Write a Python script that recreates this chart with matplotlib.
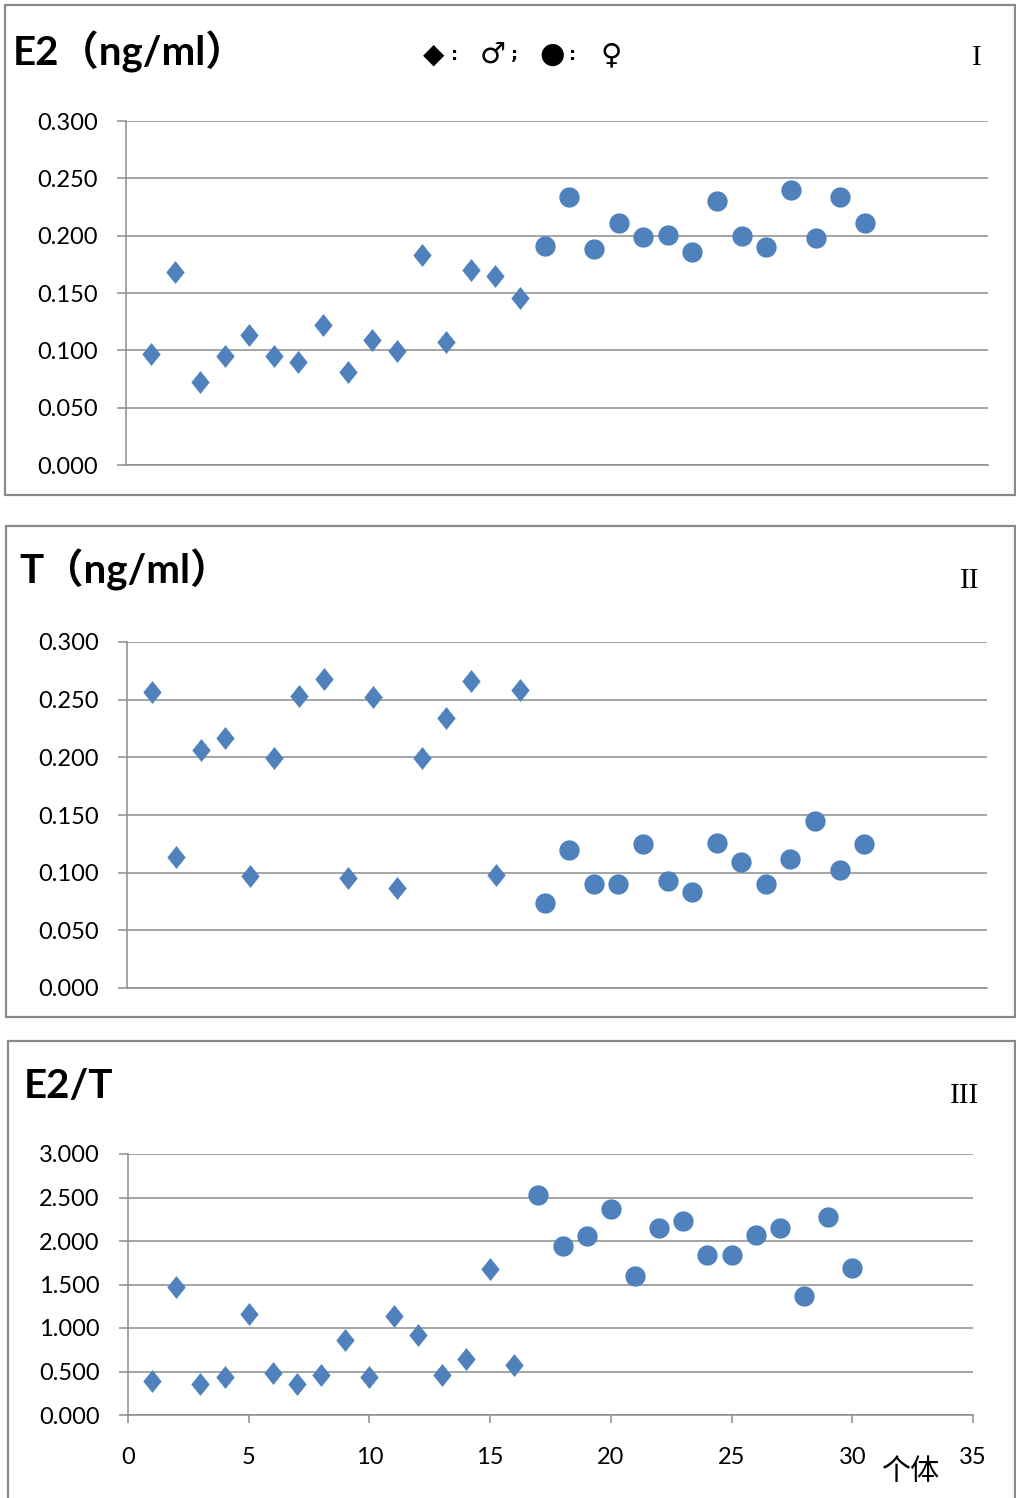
import matplotlib
matplotlib.use('Agg')
import matplotlib.pyplot as plt
from matplotlib.patches import Rectangle
from matplotlib.path import Path
from matplotlib.ticker import FormatStrFormatter
import numpy as np

# ---------------- data ----------------
male_ids = list(range(1, 17))
female_ids = list(range(17, 31))

e2_male = [0.097, 0.168, 0.072, 0.095, 0.113, 0.095, 0.090, 0.122,
           0.081, 0.109, 0.099, 0.183, 0.107, 0.170, 0.165, 0.146]
e2_female = [0.191, 0.234, 0.188, 0.211, 0.199, 0.201, 0.186,
             0.230, 0.200, 0.190, 0.240, 0.198, 0.234, 0.211]

t_male = [0.257, 0.114, 0.206, 0.217, 0.097, 0.199, 0.253, 0.268,
          0.095, 0.252, 0.087, 0.199, 0.234, 0.266, 0.098, 0.258]
t_female = [0.074, 0.120, 0.090, 0.090, 0.125, 0.093, 0.083,
            0.126, 0.109, 0.090, 0.112, 0.145, 0.102, 0.125]

ratio_male = [0.387, 1.471, 0.356, 0.441, 1.165, 0.487, 0.356, 0.460,
              0.858, 0.437, 1.142, 0.920, 0.460, 0.644, 1.682, 0.571]
ratio_female = [2.529, 1.943, 2.061, 2.368, 1.594, 2.146, 2.226,
                1.835, 1.835, 2.069, 2.149, 1.372, 2.272, 1.690]

titles = ["E2（ng/ml）", "T（ng/ml）", "E2/T"]
numerals = ["I", "II", "III"]
conc_ticks = [0.0, 0.05, 0.10, 0.15, 0.20, 0.25, 0.30]
ratio_ticks = [0.0, 0.5, 1.0, 1.5, 2.0, 2.5, 3.0]
x_ticks = [0, 5, 10, 15, 20, 25, 30, 35]
x_label = "个体"

# ---------------- layout ----------------
W, H = 1016, 1498
fig = plt.figure(figsize=(W / 100, H / 100), dpi=100)

def fx(px):
    return px / W

def fy(py):
    return 1 - py / H

BLUE = '#4F81BD'
GRID = '#8C8C8C'
BORDER = '#8A8A8A'
NUMFONT = ['Lato', 'DejaVu Sans']
TITLEFONT = ['Lato', 'Noto Sans CJK SC']

diamond = Path([(0, 1), (0.8, 0), (0, -1), (-0.8, 0), (0, 1)],
               [Path.MOVETO, Path.LINETO, Path.LINETO, Path.LINETO, Path.CLOSEPOLY])

panels = [
    dict(box=(5, 5, 1015, 495), ax=(126, 988, 121, 465),
         male=e2_male, female=e2_female, ticks=conc_ticks, fmt='%.3f',
         title_xy=(13, 52), num_xy=(977, 58), xlabels=False),
    dict(box=(6, 526, 1015, 1017), ax=(127, 987, 642, 988),
         male=t_male, female=t_female, ticks=conc_ticks, fmt='%.3f',
         title_xy=(19, 570), num_xy=(970, 581), xlabels=False),
    dict(box=(8, 1041, 1015, 1520), ax=(128, 973, 1154, 1415),
         male=ratio_male, female=ratio_female, ticks=ratio_ticks, fmt='%.3f',
         title_xy=(24, 1086), num_xy=(965, 1096), xlabels=True),
]

for i, p in enumerate(panels):
    x0, y0, x1, y1 = p['box']
    fig.patches.append(Rectangle((fx(x0), fy(y1)), fx(x1) - fx(x0), fy(y0) - fy(y1),
                                 transform=fig.transFigure, fill=False,
                                 edgecolor=BORDER, linewidth=1.6, zorder=0))
    l, r, t, b = p['ax']
    ax = fig.add_axes([fx(l), fy(b), fx(r) - fx(l), fy(t) - fy(b)])
    ax.set_xlim(0, 35)
    ax.set_ylim(p['ticks'][0], p['ticks'][-1])
    ax.set_yticks(p['ticks'])
    ax.yaxis.set_major_formatter(FormatStrFormatter(p['fmt']))
    ax.yaxis.grid(True, color=GRID, linewidth=1.1)
    ax.set_axisbelow(True)
    for s in ['top', 'right']:
        ax.spines[s].set_visible(False)
    for s in ['left', 'bottom']:
        ax.spines[s].set_color(GRID)
        ax.spines[s].set_linewidth(1.1)
    ax.tick_params(axis='y', direction='out', length=6.5, width=1.1, color=GRID,
                   pad=14, labelsize=17)
    if p['xlabels']:
        ax.set_xticks(x_ticks)
        ax.tick_params(axis='x', direction='out', length=5.8, width=1.1, color=GRID,
                       pad=17.5, labelsize=17)
    else:
        ax.set_xticks([])
    for lab in ax.get_yticklabels() + ax.get_xticklabels():
        lab.set_fontfamily(NUMFONT)
    ax.plot(male_ids, p['male'], linestyle='none', marker=diamond, markersize=16.5,
            color=BLUE, markeredgewidth=0, clip_on=False)
    ax.plot(female_ids, p['female'], linestyle='none', marker='o', markersize=14.6,
            color=BLUE, markeredgewidth=0, clip_on=False)

    tx, ty = p['title_xy']
    fig.text(fx(tx), fy(ty), titles[i], ha='left', va='center', fontsize=29,
             fontweight='bold', family=TITLEFONT)
    nx, ny = p['num_xy']
    fig.text(fx(nx), fy(ny), numerals[i], ha='center', va='center', fontsize=21,
             family=['Liberation Serif'])

# legend symbols in the first panel
legend_parts = [("◆", 434, 20, 'normal'), (":", 455, 13, 'bold'),
                ("♂", 493, 21, 'normal'), (";", 514, 13, 'bold'),
                ("●", 552, 21, 'normal'), (":", 573, 13, 'bold'),
                ("♀", 611, 21, 'normal')]
for txt, px, fs, fw in legend_parts:
    fig.text(fx(px), fy(55), txt, ha='center', va='center', fontsize=fs,
             fontweight=fw, family=['DejaVu Sans'])

fig.text(fx(910), fy(1472), x_label, ha='center', va='center', fontsize=21,
         family=['Noto Sans CJK SC'])

fig.savefig('out.png', dpi=100)
